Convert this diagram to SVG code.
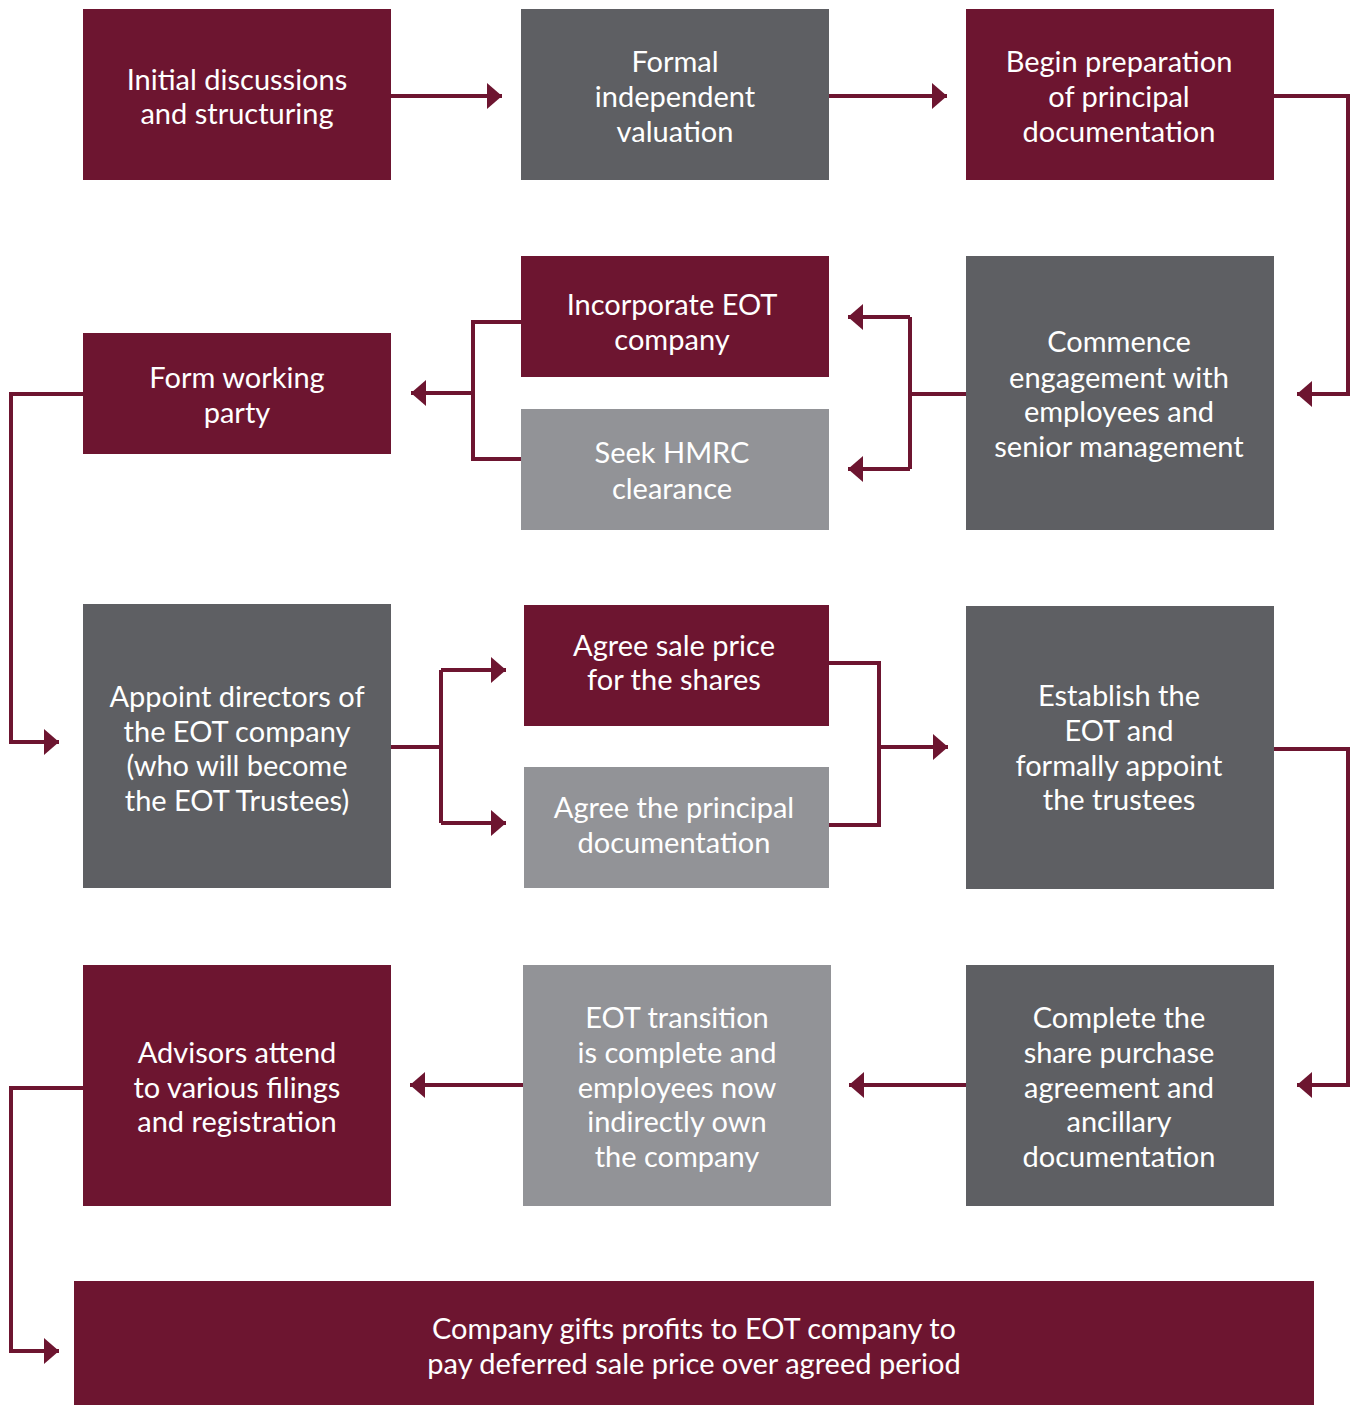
<svg xmlns="http://www.w3.org/2000/svg" width="1359" height="1405" viewBox="0 0 1359 1405">
<defs>
<style>
.m{fill:#6d1530}.d{fill:#5e5f63}.l{fill:#929397}
text{font-family:Lato,"Open Sans","Liberation Sans",sans-serif;font-size:29px;fill:#ffffff;text-anchor:middle}
.c{fill:none;stroke:#6d1530;stroke-width:4}
</style>
<marker id="ah" markerUnits="userSpaceOnUse" markerWidth="16" markerHeight="26" refX="15" refY="13" orient="auto">
<path d="M0,0 L15,13 L0,26 Z" fill="#6d1530"/>
</marker>
</defs>
<rect width="1359" height="1405" fill="#ffffff"/>
<g id="connectors">
<path class="c" d="M391,96 H502" marker-end="url(#ah)"/>
<path class="c" d="M829,96 H947" marker-end="url(#ah)"/>
<path class="c" d="M1274,96 H1348 V394 H1297" marker-end="url(#ah)"/>
<path class="c" d="M966,394 H910"/>
<path class="c" d="M910,317 V469"/>
<path class="c" d="M910,317 H848" marker-end="url(#ah)"/>
<path class="c" d="M910,469 H848" marker-end="url(#ah)"/>
<path class="c" d="M521,322 H473 V459 H521"/>
<path class="c" d="M473,393 H411" marker-end="url(#ah)"/>
<path class="c" d="M83,394 H11 V742 H59" marker-end="url(#ah)"/>
<path class="c" d="M391,747 H441"/>
<path class="c" d="M441,670 V823"/>
<path class="c" d="M441,670 H506" marker-end="url(#ah)"/>
<path class="c" d="M441,823 H506" marker-end="url(#ah)"/>
<path class="c" d="M829,663 H879 V825 H829"/>
<path class="c" d="M879,747 H948" marker-end="url(#ah)"/>
<path class="c" d="M1274,749 H1348 V1085 H1297" marker-end="url(#ah)"/>
<path class="c" d="M966,1085 H849" marker-end="url(#ah)"/>
<path class="c" d="M523,1085 H410" marker-end="url(#ah)"/>
<path class="c" d="M83,1088 H11 V1351 H59" marker-end="url(#ah)"/>
</g>
<g id="n1"><rect class="m" x="83" y="9" width="308" height="171"/><text x="237" y="90">Initial discussions</text><text x="237" y="124">and structuring</text></g>
<g id="n2"><rect class="d" x="521" y="9" width="308" height="171"/><text x="675" y="72">Formal</text><text x="675" y="107">independent</text><text x="675" y="142">valuation</text></g>
<g id="n3"><rect class="m" x="966" y="9" width="308" height="171"/><text x="1119" y="72">Begin preparation</text><text x="1119" y="107">of principal</text><text x="1119" y="142">documentation</text></g>
<g id="n4"><rect class="d" x="966" y="256" width="308" height="274"/><text x="1119" y="352">Commence</text><text x="1119" y="388">engagement with</text><text x="1119" y="422">employees and</text><text x="1119" y="457">senior management</text></g>
<g id="n5"><rect class="m" x="521" y="256" width="308" height="121"/><text x="672" y="315">Incorporate EOT</text><text x="672" y="350">company</text></g>
<g id="n6"><rect class="l" x="521" y="409" width="308" height="121"/><text x="672" y="463">Seek HMRC</text><text x="672" y="499">clearance</text></g>
<g id="n7"><rect class="m" x="83" y="333" width="308" height="121"/><text x="237" y="388">Form working</text><text x="237" y="423">party</text></g>
<g id="n8"><rect class="d" x="83" y="604" width="308" height="284"/><text x="237" y="707">Appoint directors of</text><text x="237" y="742">the EOT company</text><text x="237" y="776">(who will become</text><text x="237" y="811">the EOT Trustees)</text></g>
<g id="n9"><rect class="m" x="524" y="605" width="305" height="121"/><text x="674" y="656">Agree sale price</text><text x="674" y="690">for the shares</text></g>
<g id="n10"><rect class="l" x="524" y="767" width="305" height="121"/><text x="674" y="818">Agree the principal</text><text x="674" y="853">documentation</text></g>
<g id="n11"><rect class="d" x="966" y="606" width="308" height="283"/><text x="1119" y="706">Establish the</text><text x="1119" y="741">EOT and</text><text x="1119" y="776">formally appoint</text><text x="1119" y="810">the trustees</text></g>
<g id="n12"><rect class="d" x="966" y="965" width="308" height="241"/><text x="1119" y="1028">Complete the</text><text x="1119" y="1063">share purchase</text><text x="1119" y="1098">agreement and</text><text x="1119" y="1132">ancillary</text><text x="1119" y="1167">documentation</text></g>
<g id="n13"><rect class="l" x="523" y="965" width="308" height="241"/><text x="677" y="1028">EOT transition</text><text x="677" y="1063">is complete and</text><text x="677" y="1098">employees now</text><text x="677" y="1132">indirectly own</text><text x="677" y="1167">the company</text></g>
<g id="n14"><rect class="m" x="83" y="965" width="308" height="241"/><text x="237" y="1063">Advisors attend</text><text x="237" y="1098">to various filings</text><text x="237" y="1132">and registration</text></g>
<g id="n15"><rect class="m" x="74" y="1281" width="1240" height="124"/><text x="694" y="1339">Company gifts profits to EOT company to</text><text x="694" y="1374">pay deferred sale price over agreed period</text></g>
</svg>
